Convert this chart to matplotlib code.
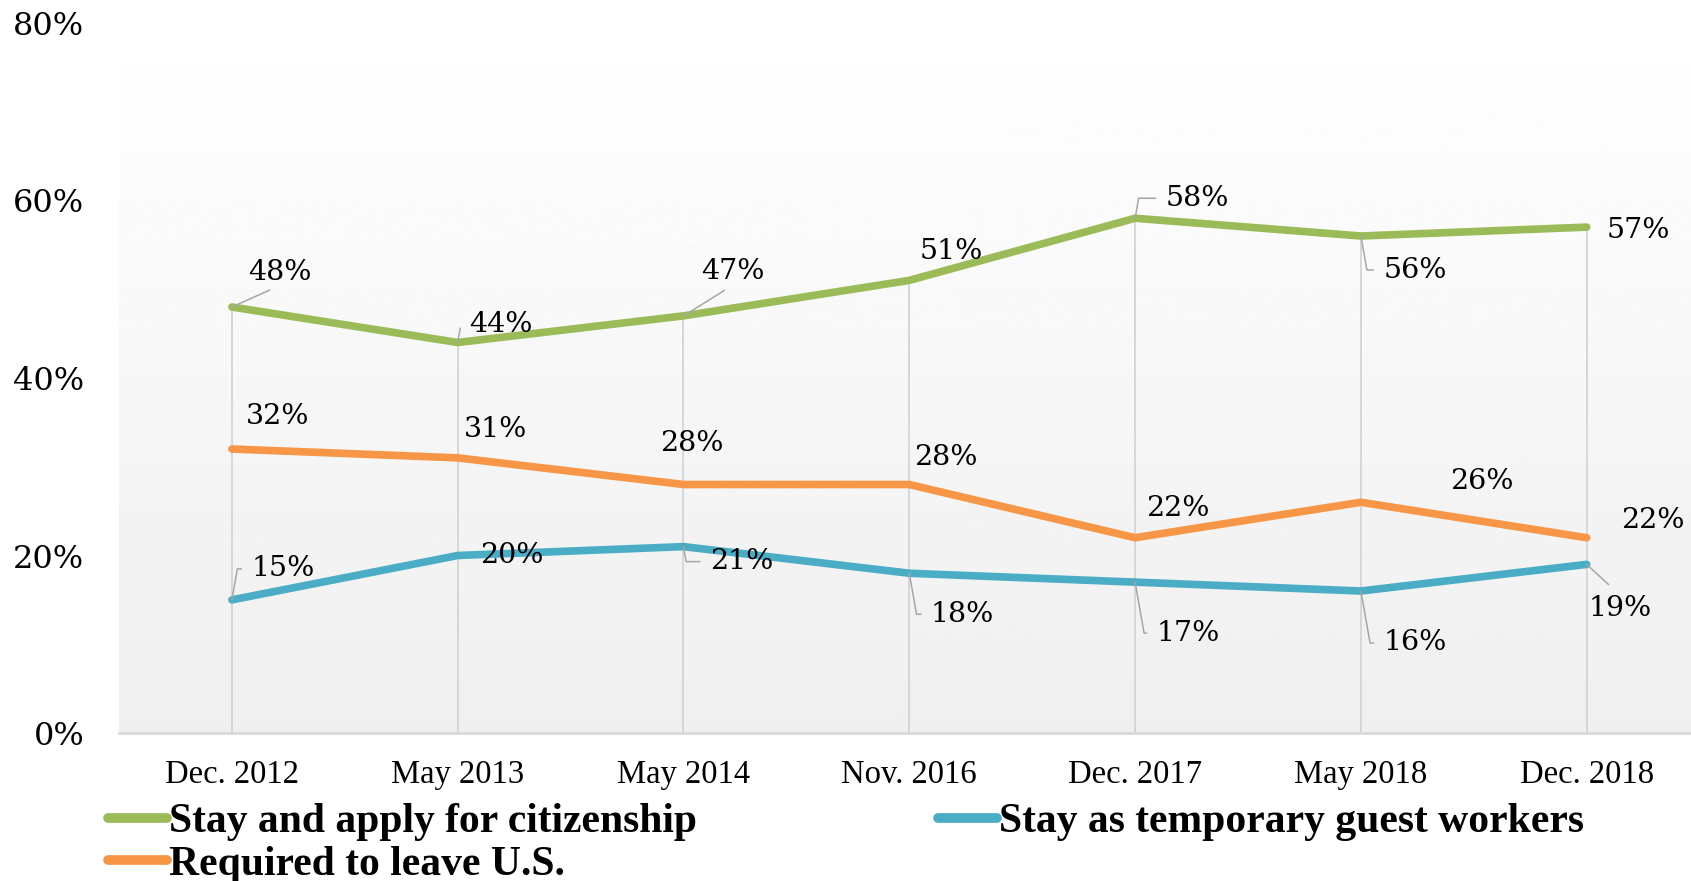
import numpy as np
import matplotlib
matplotlib.use("Agg")
import matplotlib.pyplot as plt
from matplotlib.lines import Line2D

# survey waves
waves = ['Dec. 2012', 'May 2013', 'May 2014', 'Nov. 2016', 'Dec. 2017', 'May 2018', 'Dec. 2018']

# share of respondents, %
citizenship = [48, 44, 47, 51, 58, 56, 57]
leave_us = [32, 31, 28, 28, 22, 26, 22]
guest_workers = [15, 20, 21, 18, 17, 16, 19]

series_names = ['Stay and apply for citizenship', 'Required to leave U.S.',
                'Stay as temporary guest workers']

y_ticks = [0, 20, 40, 60, 80]

GREEN = '#9bbb59'
ORANGE = '#f79646'
BLUE = '#4bacc6'
LEADER = '#a6a6a6'

# label offsets from the point, in pixels (dx, dy) and leader style
# style: None = no leader, 'b' = bracket, 'd' = diagonal up, 'u' = diagonal down
green_lbl = [(48, 35, 'd'), (43, 18, 'b'), (49, 44, 'd'), (42, 29, None),
             (62, 20, 'b'), (54, -34, 'b'), (52, -3, None)]
orange_lbl = [(46, 33, None), (38, 28, None), (8, 41, None), (37, 27, None),
              (43, 29, None), (121, 21, None), (66, 17, None)]
blue_lbl = [(51, 31, 'b'), (54, 0, None), (58, -15, 'b'), (53, -41, 'b'),
            (53, -51, 'b'), (54, -52, 'b'), (33, -44, 'u')]

fig = plt.figure(figsize=(16.91, 8.81), dpi=100)
ax = fig.add_axes([119 / 1691, 148 / 881, 1580.6 / 1691, 710 / 881])
x = np.arange(len(waves))
ax.set_xlim(-0.5, 6.5)
ax.set_ylim(0, 80)

# background gradient, white at top to light grey at bottom
grad = np.linspace(1.0, 0.937, 256).reshape(-1, 1)
ax.imshow(grad, cmap='gray', vmin=0, vmax=1, aspect='auto',
          extent=(0, 1, 0, 1), transform=ax.transAxes, zorder=0)

# drop lines
tops = np.max([citizenship, leave_us, guest_workers], axis=0)
ax.vlines(x, 0, tops, color='#d4d4d4', lw=1.3, zorder=1)

for vals, col in [(citizenship, GREEN), (leave_us, ORANGE), (guest_workers, BLUE)]:
    ax.plot(x, vals, color=col, lw=5.5, solid_capstyle='round',
            solid_joinstyle='round', zorder=3)

lbl_font = dict(family='DejaVu Serif', fontsize=20.5)
for vals, offs in [(citizenship, green_lbl), (leave_us, orange_lbl), (guest_workers, blue_lbl)]:
    for i, v in enumerate(vals):
        dx, dy, kind = offs[i]
        props = None
        if kind == 'b':
            ang = 80 if dy > 0 else 100
            props = dict(arrowstyle='-', color=LEADER, lw=1.1, relpos=(0, 0.5),
                         shrinkA=5, shrinkB=0,
                         connectionstyle='angle,angleA=0,angleB=%d,rad=0' % ang)
        elif kind == 'd':
            props = dict(arrowstyle='-', color=LEADER, lw=1.1, relpos=(0.5, 0),
                         shrinkA=3, shrinkB=0)
        elif kind == 'u':
            props = dict(arrowstyle='-', color=LEADER, lw=1.1, relpos=(0.5, 1),
                         shrinkA=8, shrinkB=0)
        ax.annotate('%d%%' % v, xy=(i, v), xytext=(dx, dy), textcoords='offset pixels',
                    ha='center', va='center', arrowprops=props, zorder=5,
                    annotation_clip=False, **lbl_font)

for s in ['top', 'right', 'left']:
    ax.spines[s].set_visible(False)
ax.spines['bottom'].set_color('#d9d9d9')
ax.spines['bottom'].set_linewidth(2)
ax.spines['bottom'].set_zorder(2)

ax.set_xticks(x)
ax.set_xticklabels(waves, fontfamily='Liberation Serif', fontsize=23.5)
ax.set_yticks(y_ticks)
ax.set_yticklabels(['%d%%' % t for t in y_ticks], fontfamily='DejaVu Serif', fontsize=23)
ax.tick_params(axis='x', length=0, pad=19)
ax.tick_params(axis='y', length=0, pad=25)

leg_font = dict(family='Liberation Serif', weight='bold', size=30)
h = [Line2D([], [], color=c, lw=7, solid_capstyle='round') for c in (GREEN, ORANGE, BLUE)]
fig.legend(h[:2], series_names[:2], loc='upper left', bbox_to_anchor=(108 / 1691, 1 - 803 / 881),
           frameon=False, prop=leg_font, handlelength=1.42, handletextpad=0.05,
           borderpad=0, borderaxespad=0, labelspacing=0.1)
fig.legend(h[2:], series_names[2:], loc='upper left', bbox_to_anchor=(938 / 1691, 1 - 803 / 881),
           frameon=False, prop=leg_font, handlelength=1.42, handletextpad=0.05,
           borderpad=0, borderaxespad=0)

plt.savefig('out.png', dpi=100)
